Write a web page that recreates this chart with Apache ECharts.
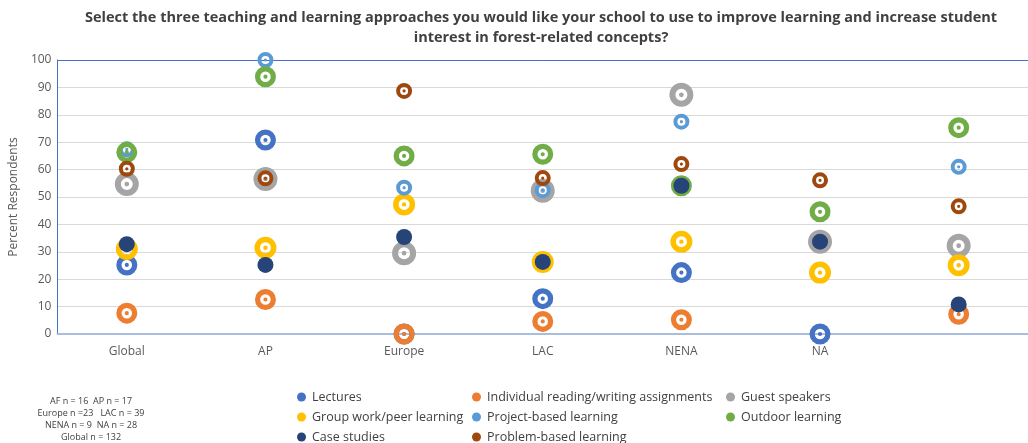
<!DOCTYPE html>
<html>
<head>
<meta charset="utf-8">
<script src="https://cdn.jsdelivr.net/npm/echarts@6/dist/echarts.min.js"></script>
<style>
  html, body { margin:0; padding:0; background:#fff; }
  #chart     { width:1028px; height:443px; }
</style>
</head>
<body>
<div id="chart"></div>
<script>
// regions (last one has no label in the source)
const regions = ['Global', 'AP', 'Europe', 'LAC', 'NENA', 'NA', '']

// percent respondents per approach, same order as regions
const lectures   = [25.2, 70.8, 0,    12.9, 22.4, 0,    null]
const individual = [7.6,  12.6, 0,    4.6,  5.2,  null, 7.2]
const guest      = [54.7, 56.6, 29.5, 52.3, 87.3, 33.7, 32.2]
const groupWork  = [31.0, 31.5, 47.3, 26.3, 33.7, 22.4, 25.1]
const project    = [67.4, 100,  53.4, 52.5, 77.5, null, 61.0]
const outdoor    = [66.3, 93.9, 65.0, 65.6, 54.1, 44.6, 75.3]
const cases      = [32.8, 25.2, 35.4, 26.3, 54.1, 33.7, 10.8]
const problem    = [60.3, 56.8, 88.7, 56.9, 62.0, 56.1, 46.6]

const yTicks = [0, 10, 20, 30, 40, 50, 60, 70, 80, 90, 100]

const sampleNotes = [
  'AF n = 16  AP n = 17',
  'Europe n =23   LAC n = 39',
  'NENA n = 9  NA n = 28',
  'Global n = 132'
]

// ring with white hole and a dot in the middle
const ring = 'path://M0,10A10,10,0,1,1,20,10A10,10,0,1,1,0,10Z' +
             'M5,10A5,5,0,1,0,15,10A5,5,0,1,0,5,10Z' +
             'M8,10A2,2,0,1,1,12,10A2,2,0,1,1,8,10Z'

const seriesDefs = [
  { name:'Lectures',                              data:lectures,   color:'#4472C4', size:21, symbol:ring },
  { name:'Individual reading/writing assignments', data:individual, color:'#ED7D31', size:21, symbol:ring },
  { name:'Guest speakers',                        data:guest,      color:'#A5A5A5', size:24, symbol:ring },
  { name:'Group work/peer learning',              data:groupWork,  color:'#FFC000', size:22, symbol:ring },
  { name:'Project-based learning',                data:project,    color:'#5B9BD5', size:16, symbol:ring },
  { name:'Outdoor learning',                      data:outdoor,    color:'#70AD47', size:21, symbol:ring },
  { name:'Case studies',                          data:cases,      color:'#264478', size:16, symbol:'circle' },
  { name:'Problem-based learning',                data:problem,    color:'#9E480E', size:16, symbol:ring }
]

const font = '"Open Sans", "Liberation Sans", sans-serif'
const gridColors = yTicks.map(t => t === 100 ? '#4472C4' : '#d9d9d9')

// one vertical legend per column
const legendCol = (left, names) => ({
  orient:'vertical', left:left, top:390, height:80,
  icon:'circle', itemWidth:9, itemHeight:9, itemGap:6,
  textStyle:{ fontFamily:font, fontSize:12.5, color:'#404040', lineHeight:14, padding:[0,0,0,1] },
  padding:0, selectedMode:false, data:names
})

const chart = echarts.init(document.getElementById('chart'))
chart.setOption({
  animation:false,
  grid:{ left:51, right:-9, top:60, bottom:109 },
  xAxis:{
    type:'category', data:regions,
    axisLine:{ lineStyle:{ color:'#a9bde0', width:2 } },
    axisTick:{ show:false },
    axisLabel:{ fontFamily:font, fontSize:12, color:'#595959', margin:12 }
  },
  yAxis:{
    type:'value', min:0, max:100, interval:10,
    name:'Percent Respondents', nameLocation:'middle', nameGap:33, nameRotate:90,
    nameTextStyle:{ fontFamily:font, fontSize:12, color:'#595959' },
    axisLine:{ show:true, lineStyle:{ color:'#4472C4', width:1 } },
    axisTick:{ show:false },
    axisLabel:{ fontFamily:font, fontSize:12, color:'#595959', margin:6 },
    splitLine:{ lineStyle:{ color:gridColors, width:1 } }
  },
  legend:[
    legendCol(297, ['Lectures', 'Group work/peer learning', 'Case studies']),
    legendCol(472, ['Individual reading/writing assignments', 'Project-based learning', 'Problem-based learning']),
    legendCol(726, ['Guest speakers', 'Outdoor learning'])
  ],
  graphic:[
    {
      type:'text', x:541, y:8,
      style:{
        text:'Select the three teaching and learning approaches you would like your school to use to improve learning and increase student\ninterest in forest-related concepts?',
        fontFamily:font, fontSize:14.5, fontWeight:'bold', fill:'#404040',
        align:'center', lineHeight:20
      }
    },
    {
      type:'text', x:91, y:395,
      style:{
        text:sampleNotes.join('\n'), fontFamily:font, fontSize:9, fill:'#404040',
        align:'center', lineHeight:12
      }
    }
  ],
  series:seriesDefs.map(s => ({
    type:'scatter', name:s.name, data:s.data,
    symbol:s.symbol, symbolSize:s.size, clip:false,
    itemStyle:{ color:s.color, opacity:1 }
  }))
})
</script>
</body>
</html>
